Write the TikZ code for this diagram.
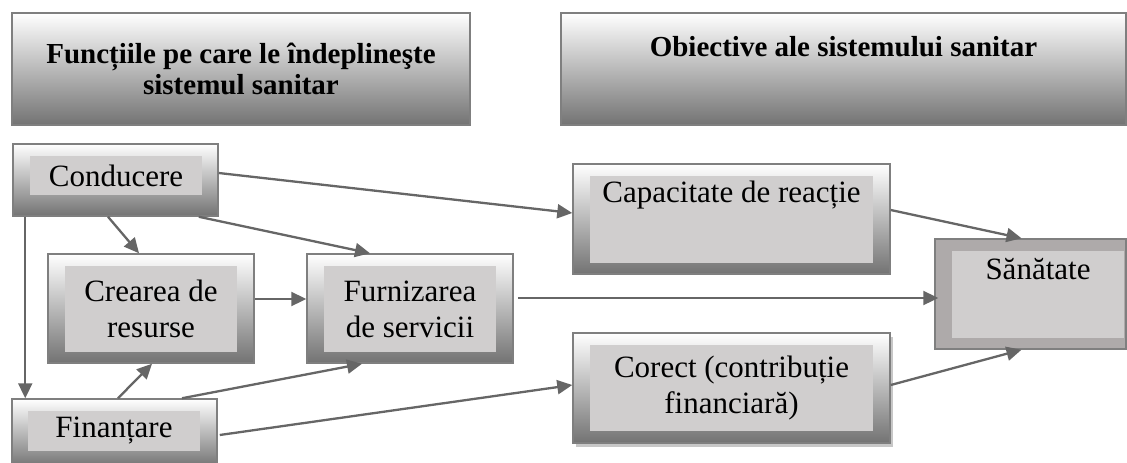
\documentclass[tikz,border=0pt]{standalone}
\usepackage{fontspec}
\setmainfont{Liberation Serif}
\usetikzlibrary{arrows.meta,shadows}
\definecolor{framegray}{HTML}{7F7F7F}
\definecolor{innergray}{HTML}{D0CECE}
\definecolor{healthgray}{HTML}{AEAAAA}
\definecolor{arrowgray}{HTML}{666666}
\newcommand{\boxfont}{\fontsize{31}{36}\selectfont}
\newcommand{\headfont}{\fontsize{29}{31}\selectfont\bfseries}
\tikzset{
  frame/.style 2 args={draw=framegray, line width=1.5pt, top color=white, bottom color=black!55,
    minimum width=#1pt, minimum height=#2pt, inner sep=0pt},
  inbox/.style 2 args={fill=innergray, minimum width=#1pt, minimum height=#2pt, inner sep=0pt,
    align=center, font=\boxfont},
  link/.style={draw=arrowgray, line width=2.3pt, -{Triangle[length=15pt,width=14pt]}, arrowgray}
}
\begin{document}
\begin{tikzpicture}[x=1pt,y=-1pt]
\useasboundingbox (0,0) rectangle (1127,463);

% Headings
\node[frame={458}{112}, font=\headfont, align=center] (headL) at (241,69)
  {Funcțiile pe care le îndeplineşte\\sistemul sanitar};
\node[frame={565}{112}, font=\headfont, text height=43pt, text depth=69pt] (headR) at (843.5,69)
  {Obiective ale sistemului sanitar};

% Functions
\node[frame={205}{72}] (cond) at (115.5,180) {};
\node[inbox={172}{39}] (condT) at (116,175.5) {Conducere};
\node[frame={206}{109}] (crea) at (151,308.5) {};
\node[inbox={172}{86}] (creaT) at (151,309) {Crearea de\\resurse};
\node[frame={206}{109}] (furn) at (410,308.5) {};
\node[inbox={172}{86}] (furnT) at (410,309) {Furnizarea\\de servicii};
\node[frame={205}{68}] (fin) at (114.5,433) {};
\node[inbox={172}{40}] (finT) at (114,431) {Finanțare};

% Objectives
\node[frame={317}{110}] (capac) at (731.5,219) {};
\node[inbox={283}{87}, text height=26pt, text depth=61pt] (capacT) at (731.5,219.5) {Capacitate de reacție};
\node[frame={317}{110}, general shadow={fill=black!22, shadow xshift=3pt, shadow yshift=-4pt}] (corect) at (731.5,388) {};
\node[inbox={283}{86}] (corectT) at (731.5,388) {Corect (contribuție\\financiară)};
\node[draw=framegray, line width=1.5pt, fill=healthgray, minimum width=191pt, minimum height=110pt, inner sep=0pt] (sanat) at (1030.5,294) {};
\node[inbox={172}{87}, text height=28pt, text depth=59pt] (sanatT) at (1038,294.5) {Sănătate};

% Links
\draw[link] ([yshift=7pt]cond.east) -- ([yshift=6pt]capac.west);
\draw[link] ([xshift=-7.5pt]cond.south) -- ([xshift=-12pt]crea.north);
\draw[link] ([xshift=-20pt]cond.south east) -- ([xshift=-40pt]furn.north);
\draw[link] ([xshift=13pt]cond.south west) -- ([xshift=13pt]cond.south west |- fin.north);
\draw[link] ([yshift=9.5pt]crea.east) -- ([yshift=9.5pt]furn.west);
\draw[link] ([xshift=3.5pt]fin.north) -- ([xshift=1pt]crea.south);
\draw[link] ([xshift=67.5pt]fin.north) -- ([xshift=-48pt]furn.south);
\draw[link] ([shift={(2pt,-2pt)}]fin.east) -- ([yshift=3pt]corect.west);
\draw[link] ([shift={(4pt,10.5pt)}]furn.east) -- ([shift={(4pt,10.5pt)}]furn.east -| sanat.west);
\draw[link] ([yshift=9pt]capac.east) -- ([xshift=-9pt]sanat.north);
\draw[link] ([yshift=3pt]corect.east) -- ([xshift=-9pt]sanat.south);
\end{tikzpicture}
\end{document}
